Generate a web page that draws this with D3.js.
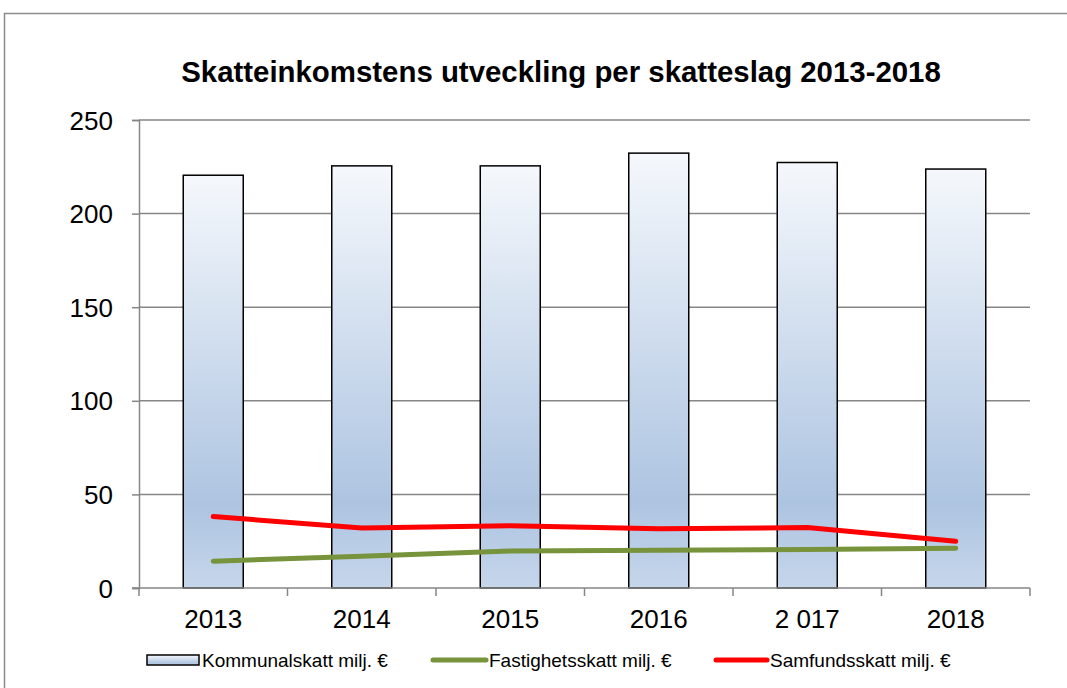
<!DOCTYPE html>
<html><head><meta charset="utf-8">
<script src="https://cdn.jsdelivr.net/npm/d3@7"></script>
<style>body{margin:0;background:#fff}svg{display:block}</style>
</head><body>
<svg id="c" width="1067" height="688"></svg>
<script>
const categories = ["2013","2014","2015","2016","2 017","2018"];
const kommunalskatt = [220.5, 225.5, 225.5, 232.3, 227.3, 223.8];
const fastighetsskatt = [14.3, 17, 19.8, 20.2, 20.5, 21.3];
const samfundsskatt = [38.2, 32, 33.3, 31.6, 32.3, 25];
const yTicks = [0, 50, 100, 150, 200, 250];
const seriesNames = ["Kommunalskatt milj. €", "Fastighetsskatt milj. €", "Samfundsskatt milj. €"];

const svg = d3.select("#c");
const font = "'Liberation Sans', Arial, sans-serif";
const L = 139, R = 1030, T = 120, B = 588;

// outer frame
svg.append("rect").attr("x",4.5).attr("y",13.5).attr("width",1100).attr("height",700)
  .attr("fill","none").attr("stroke","#8c8c8c").attr("stroke-width",1.5);

const defs = svg.append("defs");
const g = defs.append("linearGradient").attr("id","bg").attr("x1",0).attr("y1",0).attr("x2",0).attr("y2",1);
g.append("stop").attr("offset","0%").attr("stop-color","#f5f8fc");
g.append("stop").attr("offset","80%").attr("stop-color","#adc4e1");
g.append("stop").attr("offset","100%").attr("stop-color","#c6d6eb");

const xc = d3.scaleBand().domain(categories).range([L, R]);
const y = d3.scaleLinear().domain([0, 250]).range([B, T]);

// gridlines
svg.append("g").selectAll("line").data(yTicks.filter(d=>d>0)).join("line")
  .attr("x1",L).attr("x2",R).attr("y1",d=>y(d)).attr("y2",d=>y(d))
  .attr("stroke","#868686").attr("stroke-width",1.5);

// y axis
const ya = svg.append("g").attr("transform",`translate(${L},0)`)
  .call(d3.axisLeft(y).tickValues(yTicks).tickSize(7).tickPadding(19));
ya.select(".domain").attr("stroke","#868686").attr("stroke-width",1.5);
ya.selectAll(".tick line").attr("stroke","#868686").attr("stroke-width",1.5);
ya.selectAll("text").attr("font-family",font).attr("font-size",26).attr("fill","#000").attr("dy","0.35em");

// bars
svg.append("g").selectAll("rect").data(kommunalskatt).join("rect")
  .attr("x",(d,i)=>xc(categories[i]) + xc.bandwidth()/2 - 30)
  .attr("width",60)
  .attr("y",d=>y(d)).attr("height",d=>B - y(d))
  .attr("fill","url(#bg)").attr("stroke","#000").attr("stroke-width",1.5);

// x axis
const xa = svg.append("g").attr("transform",`translate(0,${B})`)
  .call(d3.axisBottom(xc).tickSize(0).tickPadding(0));
xa.select(".domain").remove();
svg.append("line").attr("x1",L-7).attr("x2",R).attr("y1",B).attr("y2",B).attr("stroke","#868686").attr("stroke-width",1.5);
const bounds = categories.map(c=>xc(c)).concat([R]);
svg.append("g").selectAll("line").data(bounds).join("line")
  .attr("x1",d=>d).attr("x2",d=>d).attr("y1",B).attr("y2",B+8)
  .attr("stroke","#868686").attr("stroke-width",1.5);
xa.selectAll("text").attr("font-family",font).attr("font-size",26).attr("fill","#000").attr("dy",0).attr("y",40);

// lines
const line = d3.line().x((d,i)=>xc(categories[i]) + xc.bandwidth()/2).y(d=>y(d));
svg.append("path").datum(fastighetsskatt).attr("d",line).attr("fill","none")
  .attr("stroke","#77933c").attr("stroke-width",5).attr("stroke-linejoin","round").attr("stroke-linecap","round");
svg.append("path").datum(samfundsskatt).attr("d",line).attr("fill","none")
  .attr("stroke","#ff0000").attr("stroke-width",5).attr("stroke-linejoin","round").attr("stroke-linecap","round");

// title
svg.append("text").attr("x",561).attr("y",82).attr("text-anchor","middle")
  .attr("font-family",font).attr("font-weight","bold").attr("font-size",29.4)
  .text("Skatteinkomstens utveckling per skatteslag 2013-2018");

// legend
const lg = svg.append("g").attr("font-family",font).attr("font-size",19);
lg.append("rect").attr("x",147).attr("y",655).attr("width",52).attr("height",10)
  .attr("fill","url(#bg)").attr("stroke","#000").attr("stroke-width",1.5);
lg.append("text").attr("x",202).attr("y",667).text(seriesNames[0]);
lg.append("line").attr("x1",433).attr("x2",486).attr("y1",660).attr("y2",660)
  .attr("stroke","#77933c").attr("stroke-width",5).attr("stroke-linecap","round");
lg.append("text").attr("x",489).attr("y",667).text(seriesNames[1]);
lg.append("line").attr("x1",716).attr("x2",767).attr("y1",660).attr("y2",660)
  .attr("stroke","#ff0000").attr("stroke-width",5).attr("stroke-linecap","round");
lg.append("text").attr("x",770).attr("y",667).text(seriesNames[2]);
</script>
</body></html>
